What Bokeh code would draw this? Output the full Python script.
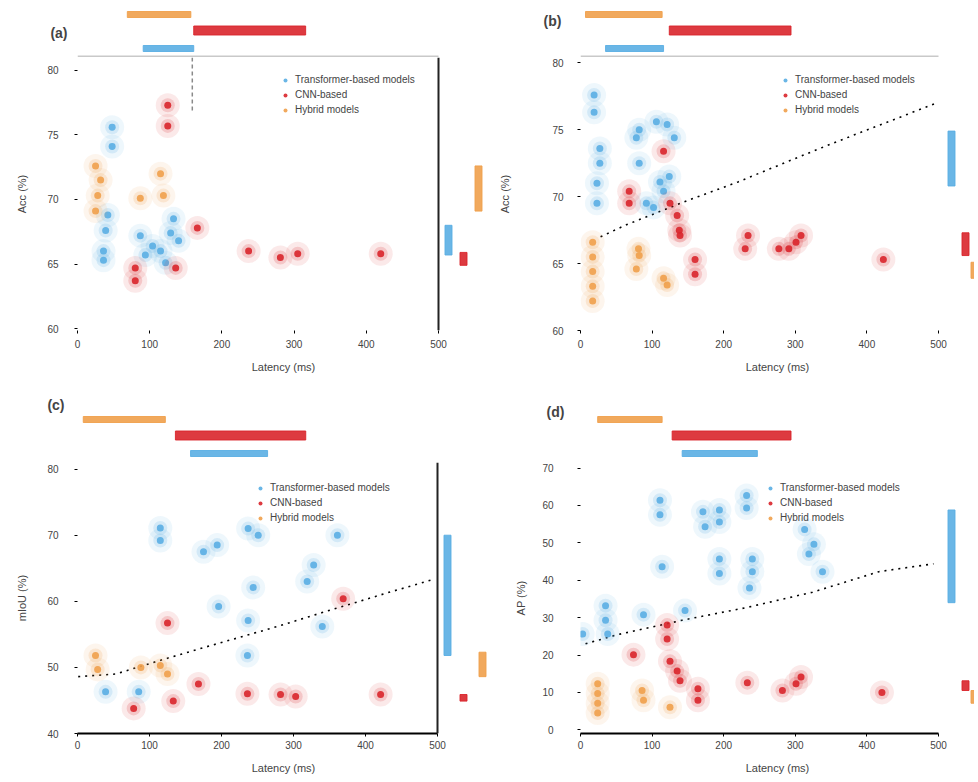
from bokeh.plotting import figure
from bokeh.layouts import row, column
from bokeh.models import Range1d, Legend, LegendItem, FixedTicker, Span, LinearAxis
from bokeh.embed import file_html
from bokeh.resources import INLINE

FONT = "Liberation Sans"
SERIES = ["Transformer-based models", "CNN-based", "Hybrid models"]
BLUE, RED, ORANGE = "#5aaee3", "#d9252b", "#f0a04b"
X_TICKS = [0, 100, 200, 300, 400, 500]
X_LABEL = "Latency (ms)"

# ---------------- panel (a) ----------------
a_blue_x = [48, 48, 42, 39, 36, 36, 87, 94, 104, 115, 129, 133, 140, 122]
a_blue_y = [75.6, 74.1, 68.8, 67.6, 66.0, 65.3, 67.2, 65.7, 66.4, 66.0, 67.4, 68.5, 66.8, 65.1]
a_red_x = [125, 125, 166, 80, 80, 136, 237, 281, 305, 420]
a_red_y = [77.3, 75.7, 67.8, 64.7, 63.7, 64.7, 66.0, 65.5, 65.8, 65.8]
a_orange_x = [25, 32, 28, 25, 115, 119, 87]
a_orange_y = [72.6, 71.5, 70.3, 69.1, 72.0, 70.3, 70.1]
a_span_lo = [69, 161, 91]      # orange, red, blue (x extent)
a_span_hi = [157, 316, 161]
a_rng_lo = [69.1, 64.9, 65.7]  # orange, red, blue (y extent)
a_rng_hi = [72.6, 65.9, 68.0]
a_yticks = [60, 65, 70, 75, 80]
a_vline_x = 159
a_vline_y = 76.9

# ---------------- panel (b) ----------------
b_blue_x = [19, 19, 82, 106, 121, 131, 78, 27, 27, 23, 23, 82, 111, 124, 92, 102, 116]
b_blue_y = [77.6, 76.3, 75.0, 75.6, 75.4, 74.4, 74.4, 73.6, 72.5, 71.0, 69.5, 72.5, 71.1, 71.5, 69.5, 69.2, 70.4]
b_red_x = [116, 68, 68, 125, 135, 138, 139, 160, 160, 234, 230, 277, 291, 301, 308, 423]
b_red_y = [73.4, 70.4, 69.5, 69.5, 68.6, 67.5, 67.1, 65.3, 64.2, 67.1, 66.1, 66.1, 66.1, 66.6, 67.1, 65.3]
b_orange_x = [17, 17, 17, 17, 17, 81, 82, 78, 116, 121]
b_orange_y = [66.6, 65.5, 64.4, 63.3, 62.2, 66.1, 65.6, 64.6, 63.9, 63.4]
b_front_x = [28, 64, 149, 220, 270, 334, 391, 454, 497]
b_front_y = [67.0, 67.9, 69.7, 71.1, 72.2, 73.6, 74.8, 76.1, 77.0]
b_span_lo = [7, 124, 35]
b_span_hi = [114, 294, 116]
b_rng_lo = [63.9, 65.6, 70.8]
b_rng_hi = [65.1, 67.3, 74.9]
b_yticks = [60, 65, 70, 75, 80]

# ---------------- panel (c) ----------------
c_blue_x = [115, 115, 175, 194, 237, 251, 361, 328, 319, 244, 196, 237, 340, 236, 39, 85]
c_blue_y = [71.1, 69.2, 67.5, 68.5, 71.0, 70.0, 70.0, 65.5, 63.0, 62.1, 59.2, 57.1, 56.2, 51.8, 46.3, 46.3]
c_red_x = [125, 168, 78, 133, 236, 282, 303, 421, 369]
c_red_y = [56.7, 47.5, 43.8, 44.9, 46.0, 45.9, 45.6, 45.9, 60.4]
c_orange_x = [25, 28, 88, 115, 125]
c_orange_y = [51.8, 49.7, 50.0, 50.3, 49.0]
c_front_x = [1, 53, 119, 185, 278, 340, 431, 494]
c_front_y = [48.6, 49.0, 51.2, 53.3, 56.2, 58.3, 61.3, 63.3]
c_span_lo = [8, 136, 157]
c_span_hi = [122, 317, 264]
c_rng_lo = [48.6, 44.9, 51.8]
c_rng_hi = [52.3, 45.9, 70.0]
c_yticks = [40, 50, 60, 70, 80]

# ---------------- panel (d) ----------------
d_blue_x = [111, 111, 171, 174, 194, 194, 232, 232, 313, 326, 319, 338, 114, 194, 194, 240, 240, 236, 146, 88, 35, 35, 38, 3]
d_blue_y = [61.4, 57.5, 58.3, 54.3, 58.8, 55.6, 62.7, 59.3, 53.6, 49.6, 47.0, 42.3, 43.6, 45.7, 41.8, 45.7, 42.3, 37.9, 31.9, 30.8, 33.2, 29.3, 25.6, 25.6]
d_red_x = [121, 121, 74, 125, 135, 139, 164, 164, 233, 282, 301, 308, 421]
d_red_y = [28.0, 24.3, 20.1, 18.3, 15.7, 13.1, 11.0, 7.9, 12.6, 10.5, 12.3, 14.1, 10.0]
d_orange_x = [24, 24, 24, 24, 86, 88, 125]
d_orange_y = [12.3, 9.7, 7.1, 4.5, 10.5, 7.9, 6.0]
d_front_x = [7, 51, 142, 232, 324, 417, 493]
d_front_y = [23.0, 25.4, 29.3, 32.7, 36.8, 42.3, 44.4]
d_span_lo = [24, 128, 142]
d_span_hi = [114, 294, 247]
d_rng_lo = [7.1, 10.5, 34.0]
d_rng_hi = [10.5, 13.1, 58.8]
d_yticks = [0, 10, 20, 30, 40, 50, 60, 70]


def make_panel(tag, pts, front, span_lo, span_hi, rng_lo, rng_hi, ylab, yticks, yrange,
               L, W, R, Ht, Hm, B, tag_pos, mar_off, bottom_line, right_line, top_line,
               legend_xy, ystand, xstand, vline=None):
    k = 500.0 / W
    xr = Range1d(0, (W + R) * k)
    # ---- top marginal strip ----
    top = figure(width=L + W + R, height=Ht, x_range=xr,
                 y_range=Range1d(0, Ht), output_backend="svg", toolbar_location=None,
                 x_axis_location=None, y_axis_location=None,
                 min_border_left=L, min_border_right=0, min_border_top=0, min_border_bottom=0)
    top.grid.visible = False
    top.outline_line_color = None
    top.hbar(y=[43, 27, 9], left=span_lo, right=span_hi, height=[6, 9, 6],
             color=[ORANGE, RED, BLUE], alpha=0.9)
    if top_line:
        top.segment(x0=[0], y0=[1], x1=[500], y1=[1], line_color="#c9c9c9", line_width=2)
    # panel tag, written as the single label of a bare left axis
    tag_axis = LinearAxis(ticker=FixedTicker(ticks=[tag_pos[1]]),
                          major_label_overrides={tag_pos[1]: tag},
                          major_label_text_font=FONT, major_label_text_font_size="14px",
                          major_label_text_font_style="bold", major_label_standoff=tag_pos[0],
                          axis_line_color=None, major_tick_line_color=None,
                          minor_tick_line_color=None)
    top.add_layout(tag_axis, "left")

    # ---- main scatter ----
    p = figure(width=L + W + R, height=Hm + B, x_range=xr,
               y_range=Range1d(*yrange), output_backend="svg", toolbar_location=None,
               min_border_left=L, min_border_right=0, min_border_top=0, min_border_bottom=B)
    p.grid.visible = False
    p.outline_line_color = None

    if front is not None:
        p.line(front[0], front[1], line_color="black", line_width=1.6, line_dash="2 5")
    if vline is not None:
        p.segment(x0=[vline[0]], y0=[vline[1]], x1=[vline[0]], y1=[yrange[1]],
                  line_color="#8a8a8a", line_width=1.5, line_dash="4 3")

    cores = []
    for (xs, ys), col in zip(pts, [BLUE, RED, ORANGE]):
        p.scatter(xs, ys, size=24, color=col, alpha=0.10, line_color=None)
        p.scatter(xs, ys, size=14, color=col, alpha=0.18, line_color=None)
        r = p.scatter(xs, ys, size=7, color=col, alpha=0.9, line_color=None)
        cores.append(r)

    # right marginal ranges
    p.vbar(x=[500 + o * k for o in mar_off], bottom=rng_lo, top=rng_hi, width=7 * k,
           color=[ORANGE, RED, BLUE], alpha=0.9)
    if right_line:
        p.add_layout(Span(location=500, dimension="height", line_color="#222222", line_width=2))

    p.xaxis.ticker = FixedTicker(ticks=X_TICKS)
    p.xaxis.bounds = (0, 500)
    p.yaxis.ticker = FixedTicker(ticks=yticks)
    p.xaxis.axis_label = X_LABEL
    p.yaxis.axis_label = ylab
    for ax in (p.xaxis, p.yaxis):
        ax.axis_label_text_font = FONT
        ax.axis_label_text_font_size = "11px"
        ax.axis_label_text_font_style = "normal"
        ax.major_label_text_font = FONT
        ax.major_label_text_font_size = "10px"
        ax.major_tick_out = 3
        ax.major_tick_in = 0
        ax.minor_tick_line_color = None
    p.yaxis.major_label_standoff = ystand[0]
    p.yaxis.axis_label_standoff = ystand[1]
    p.xaxis.major_label_standoff = xstand[0]
    p.xaxis.axis_label_standoff = xstand[1]
    p.yaxis.axis_line_color = None
    if bottom_line:
        p.xaxis.axis_line_color = "black"
        p.xaxis.axis_line_width = 2
    else:
        p.xaxis.axis_line_color = None

    legend = Legend(items=[LegendItem(label=s, renderers=[r]) for s, r in zip(SERIES, cores)],
                    location=legend_xy, background_fill_alpha=0.0, border_line_color=None,
                    label_text_font=FONT, label_text_font_size="10px", glyph_width=10,
                    glyph_height=12, label_height=13, spacing=2, padding=2, margin=0)
    p.add_layout(legend)
    return column(top, p, spacing=0)


pa = make_panel("(a)", [(a_blue_x, a_blue_y), (a_red_x, a_red_y), (a_orange_x, a_orange_y)],
                None, a_span_lo, a_span_hi, a_rng_lo, a_rng_hi, "Acc (%)", a_yticks, (59.85, 81.0),
                L=77, W=361, R=51, Ht=57, Hm=273, B=61, tag_pos=(4, 25), mar_off=[40, 25, 10],
                bottom_line=False, right_line=True, top_line=True, legend_xy=(203, 214),
                ystand=(16, 16), xstand=(6, 10), vline=(a_vline_x, a_vline_y))
pb = make_panel("(b)", [(b_blue_x, b_blue_y), (b_red_x, b_red_y), (b_orange_x, b_orange_y)],
                (b_front_x, b_front_y), b_span_lo, b_span_hi, b_rng_lo, b_rng_hi, "Acc (%)", b_yticks,
                (60, 80.4), L=91, W=358, R=36, Ht=57, Hm=273, B=61, tag_pos=(13, 37),
                mar_off=[36, 27, 13], bottom_line=False, right_line=False, top_line=True,
                legend_xy=(200, 214), ystand=(14, 38), xstand=(6, 10))
pc = make_panel("(c)", [(c_blue_x, c_blue_y), (c_red_x, c_red_y), (c_orange_x, c_orange_y)],
                (c_front_x, c_front_y), c_span_lo, c_span_hi, c_rng_lo, c_rng_hi, "mIoU (%)", c_yticks,
                (40, 81.0), L=77, W=360, R=52, Ht=71, Hm=271, B=45, tag_pos=(7, 58),
                mar_off=[45, 26, 10], bottom_line=True, right_line=True, top_line=False,
                legend_xy=(178, 209), ystand=(16, 16), xstand=(4, 10))
pd = make_panel("(d)", [(d_blue_x, d_blue_y), (d_red_x, d_red_y), (d_orange_x, d_orange_y)],
                (d_front_x, d_front_y), d_span_lo, d_span_hi, d_rng_lo, d_rng_hi, "AP (%)", d_yticks,
                (-1.0, 71.5), L=91, W=358, R=36, Ht=71, Hm=271, B=45, tag_pos=(10, 51),
                mar_off=[36, 27, 13], bottom_line=True, right_line=False, top_line=False,
                legend_xy=(185, 209), ystand=(24, 12), xstand=(4, 10))

layout = column(row(pa, pb, spacing=0), row(pc, pd, spacing=0), spacing=0)
open("out.html", "w").write(file_html(layout, INLINE))
